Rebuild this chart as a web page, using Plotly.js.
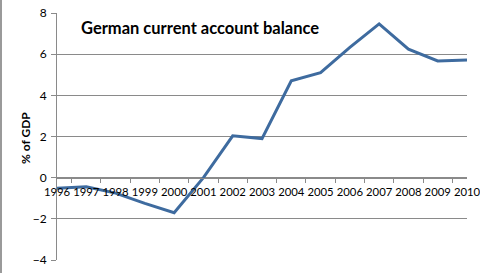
<!DOCTYPE html>
<html>
<head>
<meta charset="utf-8">
<script src="https://cdn.plot.ly/plotly-3.0.1.min.js"></script>
<style>
html, body { margin: 0; padding: 0; background: #fff; }
#chart { width: 480px; height: 273px; }
</style>
</head>
<body>
<div id="chart"></div>
<script>
const years = ['1996','1997','1998','1999','2000','2001','2002','2003','2004','2005','2006','2007','2008','2009','2010'];
const balance = [-0.51, -0.44, -0.75, -1.25, -1.7, 0.0, 2.03, 1.9, 4.71, 5.1, 6.33, 7.47, 6.24, 5.67, 5.72];
const yTicks = [-4, -2, 0, 2, 4, 6, 8];
const yMin = -4, yMax = 8;

const grey = '#8a8a8a';
const font = 'Lato, "Open Sans", sans-serif';

const trace = {
  x: years,
  y: balance,
  type: 'scatter',
  mode: 'lines',
  line: { color: '#3e6b9f', width: 3 },
  hoverinfo: 'x+y'
};

const layout = {
  width: 480,
  height: 273,
  margin: { l: 57, r: 13, t: 13, b: 13 },
  paper_bgcolor: '#ffffff',
  plot_bgcolor: '#ffffff',
  showlegend: false,
  font: { family: font, size: 12, color: '#000' },
  xaxis: {
    type: 'category',
    anchor: 'free',
    position: (0 - yMin) / (yMax - yMin),
    showline: true,
    linecolor: grey,
    linewidth: 1,
    showgrid: false,
    zeroline: false,
    ticks: 'outside',
    tickson: 'boundaries',
    ticklen: 4,
    tickcolor: grey,
    tickangle: 0,
    ticklabelstandoff: 4,
    tickfont: { family: font, size: 11.3, color: '#000' }
  },
  yaxis: {
    range: [yMin, yMax],
    tickvals: yTicks,
    showline: true,
    linecolor: grey,
    linewidth: 1,
    showgrid: true,
    gridcolor: grey,
    gridwidth: 1,
    zeroline: false,
    ticks: 'outside',
    ticklen: 5,
    tickcolor: grey,
    ticklabelstandoff: 2,
    tickfont: { family: font, size: 12, color: '#000' }
  },
  annotations: [{
    text: '<b>German current account balance</b>',
    xref: 'paper', yref: 'paper',
    x: 22 / 410, y: (273 - 13 - 28) / 247,
    xanchor: 'left', yanchor: 'middle',
    showarrow: false,
    font: { family: font, size: 16.5, color: '#000' }
  }, {
    text: '<b>% of GDP</b>',
    xref: 'paper', yref: 'paper',
    x: (25 - 57) / 410, y: (260 - 138) / 247,
    xanchor: 'center', yanchor: 'middle',
    textangle: -90,
    showarrow: false,
    font: { family: font, size: 12, color: '#000' }
  }],
  shapes: [{
    type: 'line', xref: 'paper', yref: 'paper',
    x0: -56 / 410, x1: -56 / 410, y0: -13 / 247, y1: 260 / 247,
    line: { color: '#9a9a9a', width: 2 }
  }]
};

Plotly.newPlot('chart', [trace], layout, { displayModeBar: false, staticPlot: true });
</script>
</body>
</html>
